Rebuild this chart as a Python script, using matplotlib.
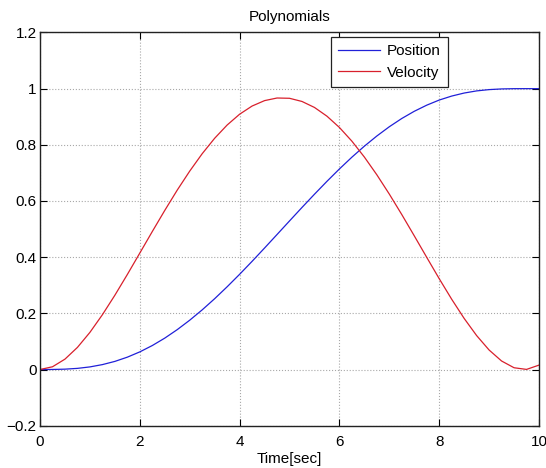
import numpy as np
import matplotlib.pyplot as plt

plt.rcParams['font.family'] = ['Liberation Sans', 'DejaVu Sans']

# time axis, sampled every 0.25 s
t = np.arange(0, 10.01, 0.25)

# values
position = [0.0, 0.0002, 0.0013, 0.0041, 0.0093, 0.0175, 0.0289, 0.0440,
            0.0628, 0.0854, 0.1118, 0.1420, 0.1756, 0.2124, 0.2522, 0.2946,
            0.3390, 0.3852, 0.4326, 0.4807, 0.5290, 0.5770, 0.6241, 0.6700,
            0.7141, 0.7560, 0.7952, 0.8314, 0.8644, 0.8938, 0.9194, 0.9412,
            0.9594, 0.9736, 0.9844, 0.9920, 0.9966, 0.9990, 0.9999, 1.0, 1.0]
velocity = [0.0, 0.0098, 0.0370, 0.0788, 0.1323, 0.1951, 0.2645, 0.3384,
            0.4147, 0.4913, 0.5665, 0.6388, 0.7064, 0.7684, 0.8234, 0.8705,
            0.9090, 0.9381, 0.9574, 0.9667, 0.9657, 0.9544, 0.9331, 0.9020,
            0.8618, 0.8130, 0.7565, 0.6933, 0.6246, 0.5517, 0.4760, 0.3993,
            0.3234, 0.2502, 0.1819, 0.1208, 0.0694, 0.0303, 0.0063, 0.0004,
            0.0157]

xticks = [0, 2, 4, 6, 8, 10]
yticks = [-0.2, 0, 0.2, 0.4, 0.6, 0.8, 1, 1.2]
ytick_labels = ['\u22120.2', '0', '0.2', '0.4', '0.6', '0.8', '1', '1.2']

fig = plt.figure(figsize=(5.46, 4.68), dpi=100)
ax = fig.add_axes([0.0733, 0.0904, 0.9139, 0.8402])

ax.plot(t, position, color='#2020d8', lw=0.9, label='Position')
ax.plot(t, velocity, color='#d8202c', lw=0.9, label='Velocity')

ax.set_xlim(0, 10)
ax.set_ylim(-0.2, 1.2)
ax.set_xticks(xticks)
ax.set_yticks(yticks)
ax.set_yticklabels(ytick_labels)
ax.tick_params(direction='in', length=5, width=0.8, labelsize=11,
               top=True, right=True)
ax.tick_params(axis='x', pad=7)
ax.tick_params(axis='y', pad=2.5)
ax.grid(True, linestyle=':', color='#a8a8a8', lw=0.8)
for s in ax.spines.values():
    s.set_linewidth(1.0)
    s.set_color('#222222')

ax.set_title('Polynomials', fontsize=11, pad=8)
ax.set_xlabel('Time[sec]', fontsize=11, labelpad=2)

leg = ax.legend(loc='upper right', bbox_to_anchor=(0.8176, 0.988),
                borderaxespad=0, fontsize=11, fancybox=False, framealpha=1,
                edgecolor='#222222', handlelength=2.8, borderpad=0.45,
                labelspacing=0.5, handletextpad=0.45)
leg.get_frame().set_linewidth(0.9)

fig.savefig('out.png', dpi=100)
